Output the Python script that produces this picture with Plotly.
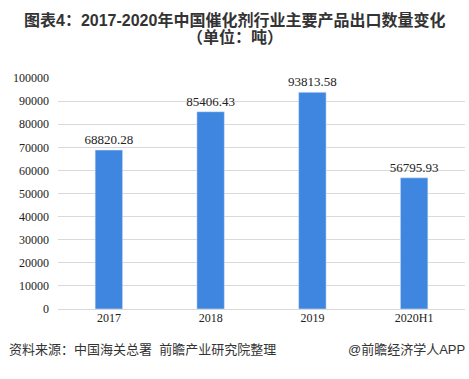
import plotly.graph_objects as go

categories = ["2017", "2018", "2019", "2020H1"]
values = [68820.28, 85406.43, 93813.58, 56795.93]
value_labels = ["68820.28", "85406.43", "93813.58", "56795.93"]
y_ticks = [0, 10000, 20000, 30000, 40000, 50000, 60000, 70000, 80000, 90000, 100000]

serif = "Times New Roman, Liberation Serif, serif"
cjk = "Arial, Liberation Sans, Noto Sans CJK SC, sans-serif"

L, R, T, B = 58, 4, 78, 70
W, H = 469, 379

fig = go.Figure()
fig.add_trace(go.Bar(
    x=categories, y=values,
    marker_color="#3F86E0",
    width=0.27,
    text=value_labels, textposition="outside",
    constraintext="none",
    textfont=dict(family=serif, size=13, color="#222222"),
    cliponaxis=False,
))

def ann(text, px, py, anchor="center", size=15):
    return dict(text=text,
                x=(px - L) / (W - L - R), y=1 - (py - T) / (H - T - B),
                xref="paper", yref="paper", showarrow=False,
                xanchor=anchor, yanchor="middle",
                font=dict(family=cjk, size=size, color="#333333"))

fig.update_layout(
    width=W, height=H,
    margin=dict(l=L, r=R, t=T, b=B, autoexpand=False),
    paper_bgcolor="white", plot_bgcolor="white",
    showlegend=False,
    xaxis=dict(
        type="category",
        tickfont=dict(family=serif, size=12, color="#222222"),
        showline=False, ticks="", showgrid=False,
        automargin=False,
    ),
    yaxis=dict(
        range=[0, 100000],
        tickvals=y_ticks,
        ticktext=[str(v) for v in y_ticks],
        tickfont=dict(family=serif, size=12, color="#222222"),
        showgrid=True, gridcolor="#d9d9d9", gridwidth=1,
        zeroline=True, zerolinecolor="#d9d9d9", zerolinewidth=1,
        ticks="", ticklabelstandoff=8,
        automargin=False,
    ),
    annotations=[
        ann("<b>图表4：2017-2020年中国催化剂行业主要产品出口数量变化</b>", 234.5, 20, size=16),
        ann("<b>（单位：吨）</b>", 234.5, 37, size=16),
        ann("资料来源：中国海关总署  前瞻产业研究院整理", 7, 349, "left", 13),
        ann("@前瞻经济学人APP", 467, 349, "right", 13),
    ],
)

fig.write_html("out.html", config={"displayModeBar": False},
               post_script="document.body.style.margin='0';document.body.style.overflow='hidden';")
